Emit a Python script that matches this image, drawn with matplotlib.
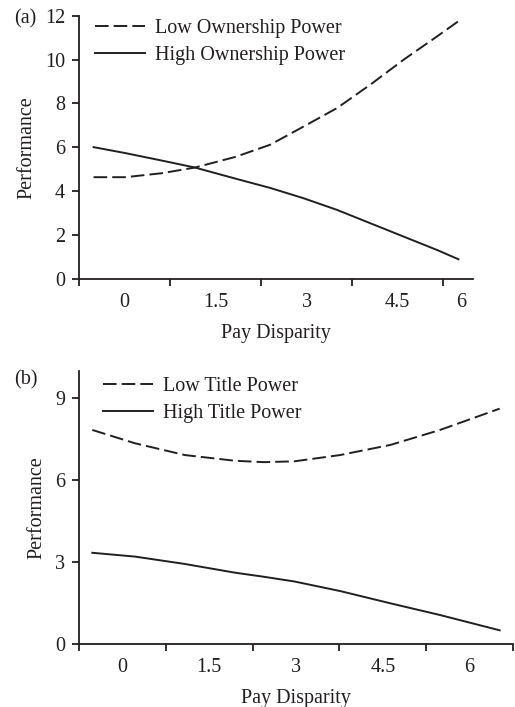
import numpy as np
import matplotlib
matplotlib.use("Agg")
import matplotlib.pyplot as plt

# panel (a) - ownership power
x_a = [-0.51, 0.01, 0.61, 1.16, 1.82, 2.40, 2.95, 3.50, 4.05, 4.60, 5.15, 5.50]
low_own = [4.64, 4.64, 4.82, 5.08, 5.56, 6.12, 6.95, 7.79, 8.86, 10.0, 11.06, 11.75]
high_own = [6.01, 5.74, 5.40, 5.08, 4.58, 4.15, 3.68, 3.15, 2.54, 1.93, 1.32, 0.90]

# panel (b) - title power
x_b = [-0.52, 0.22, 1.08, 1.95, 2.45, 2.97, 3.76, 4.63, 5.49, 6.52]
low_title = [7.83, 7.34, 6.91, 6.70, 6.65, 6.68, 6.91, 7.28, 7.83, 8.61]
high_title = [3.33, 3.19, 2.92, 2.60, 2.45, 2.28, 1.93, 1.48, 1.05, 0.49]

x_labels = ["0", "1.5", "3", "4.5", "6"]
x_label_pos = [0, 1.5, 3, 4.5, 6]
x_tick_pos = [-0.75, 0.75, 2.25, 3.75, 5.25, 6.75]

plt.rcParams["font.family"] = ["Liberation Serif", "DejaVu Serif"]
plt.rcParams["font.size"] = 14.5
ink = "#231f20"
dash = (0, (7, 2.6))

W, H = 515, 707
fig = plt.figure(figsize=(W / 100, H / 100), dpi=100)


def box(x0, y_top, x1, y_bot):
    return [x0 / W, 1 - y_bot / H, (x1 - x0) / W, (y_bot - y_top) / H]


ax1 = fig.add_axes(box(79, 15.7, 473, 279))
ax2 = fig.add_axes(box(79, 370.7, 513, 643.7))


def style(ax, label_pos, xmax):
    for s in ["top", "right"]:
        ax.spines[s].set_visible(False)
    for s in ["left", "bottom"]:
        ax.spines[s].set_linewidth(1.3)
        ax.spines[s].set_color(ink)
    ax.set_xticks([t for t in x_tick_pos if t <= xmax])
    ax.set_xticklabels([])
    ax.set_xticks(label_pos, minor=True)
    ax.set_xticklabels(x_labels, minor=True)
    ax.set_xlim(-0.75, xmax)
    ax.tick_params(axis="x", which="major", direction="out", length=5, width=1.3, color=ink)
    ax.tick_params(axis="x", which="minor", length=0, pad=10, labelcolor=ink)
    ax.tick_params(axis="y", direction="out", length=5, width=1.3, pad=5, color=ink, labelcolor=ink)
    ax.set_xlabel("Pay Disparity", color=ink, labelpad=9)
    ax.set_ylabel("Performance", color=ink, labelpad=6)


def add_legend(ax, x, y):
    ax.legend(loc="upper left", bbox_to_anchor=(x / W, 1 - y / H), bbox_transform=fig.transFigure,
              frameon=False, handlelength=2.5, handletextpad=0.5, labelspacing=0.38,
              borderpad=0, borderaxespad=0, labelcolor=ink)


# panel (a)
ax1.plot(x_a, low_own, color=ink, lw=1.4, linestyle=dash, label="Low Ownership Power")
ax1.plot(x_a, high_own, color=ink, lw=1.4, label="High Ownership Power")
ax1.set_ylim(0, 12)
ax1.set_yticks([0, 2, 4, 6, 8, 10, 12])
style(ax1, x_label_pos[:4] + [x_a[-1] + 0.05], 5.74)
add_legend(ax1, 95, 19)
fig.text(14 / W, 1 - 19 / H, "(a)", color=ink, va="center", ha="left")

# panel (b)
ax2.plot(x_b, low_title, color=ink, lw=1.4, linestyle=dash, label="Low Title Power")
ax2.plot(x_b, high_title, color=ink, lw=1.4, label="High Title Power")
ax2.set_ylim(0, 10)
ax2.set_yticks([0, 3, 6, 9])
style(ax2, x_label_pos, 6.75)
add_legend(ax2, 103, 377)
fig.text(14 / W, 1 - 380 / H, "(b)", color=ink, va="center", ha="left")

fig.savefig("out.png", dpi=100)
